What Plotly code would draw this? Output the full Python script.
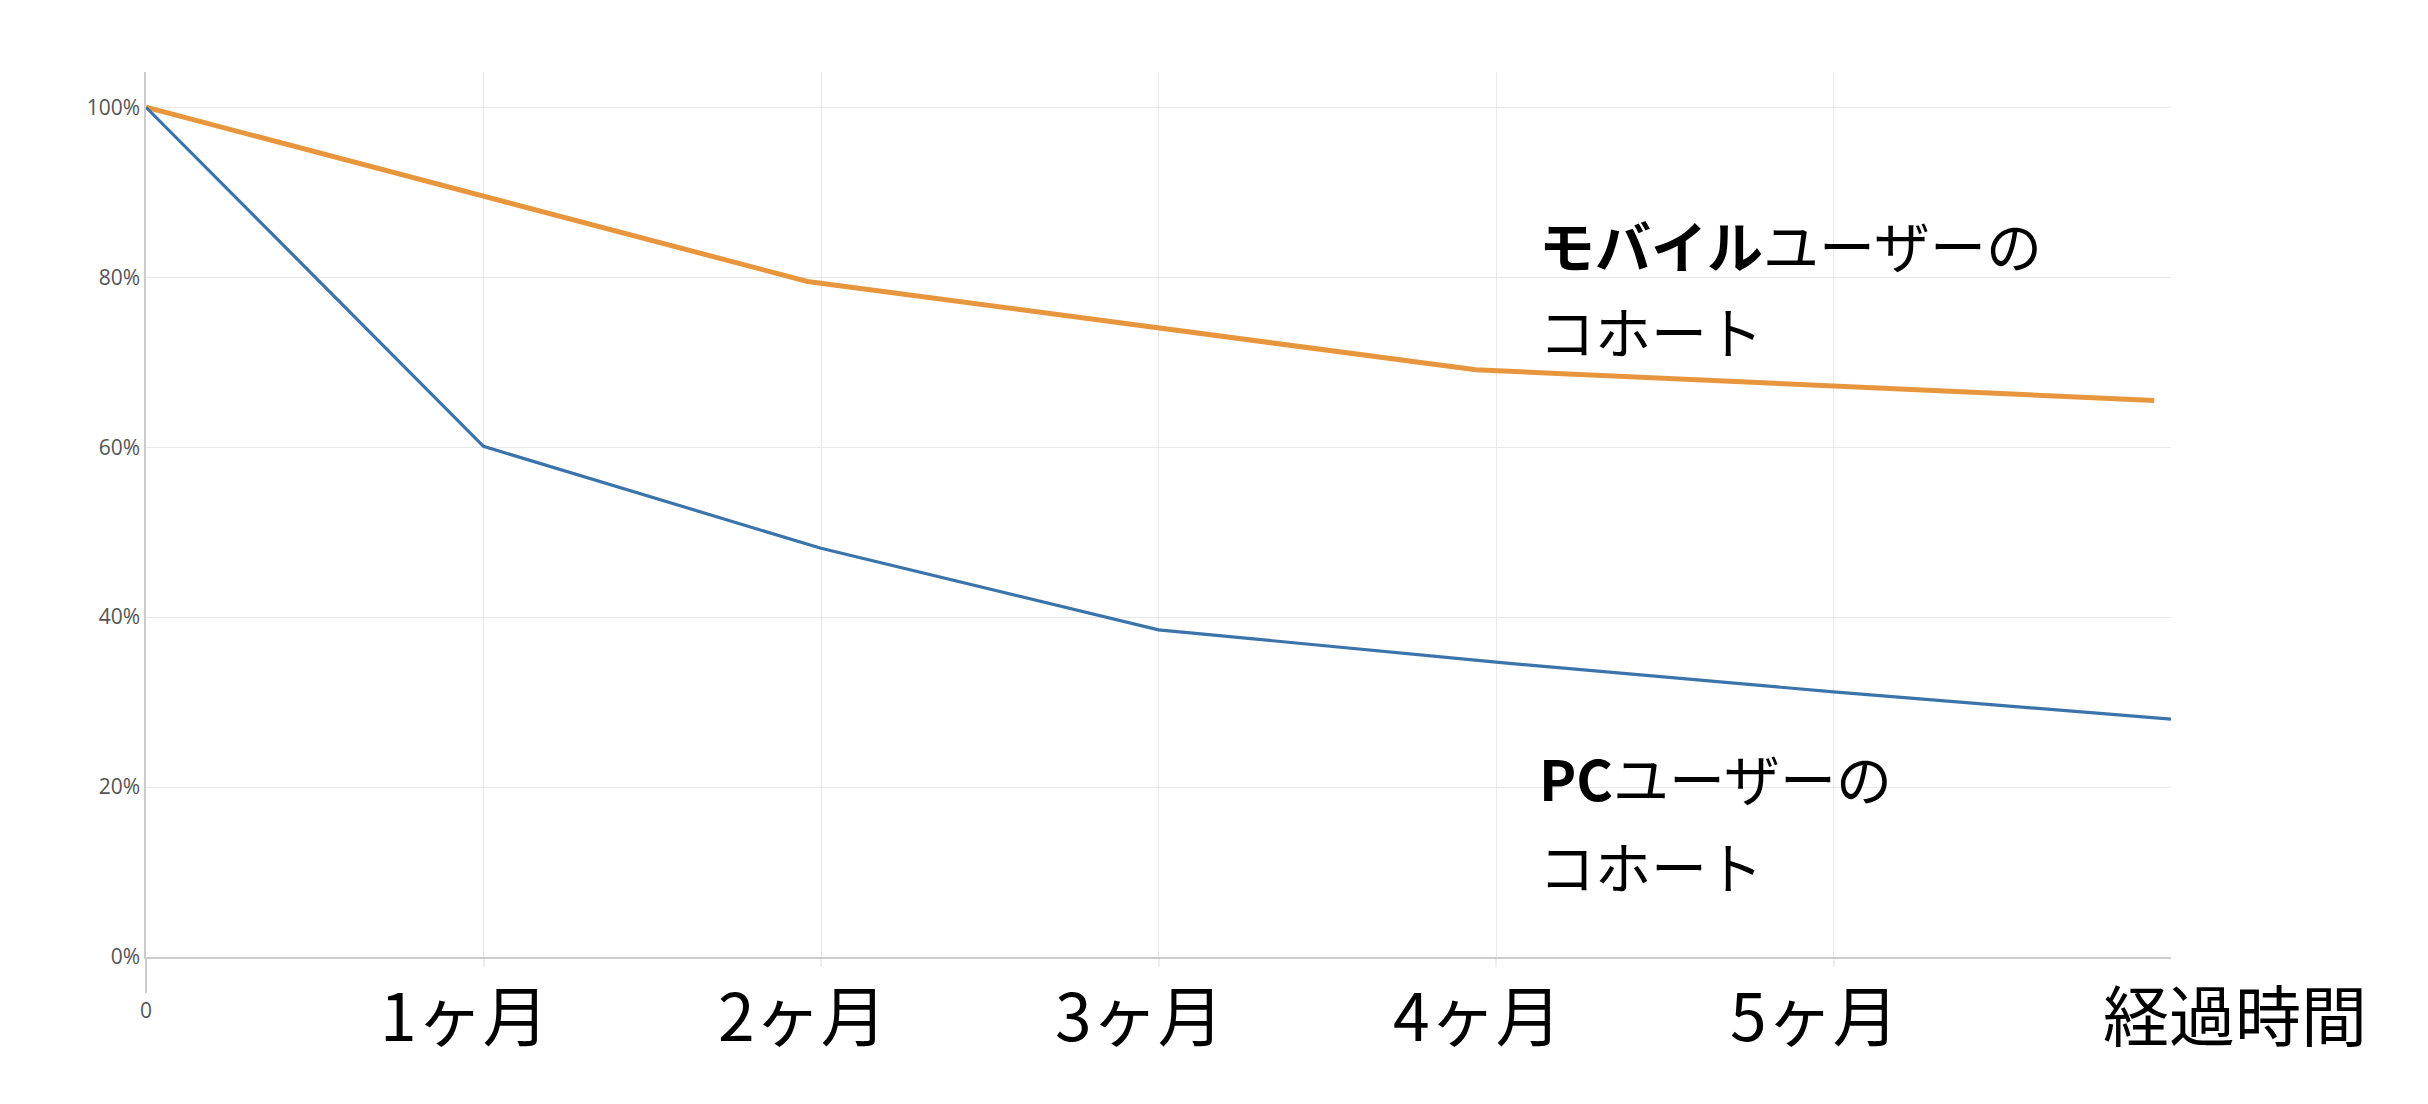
import plotly.graph_objects as go

# --- data ---
mobile_x = [0, 1.96, 3.94, 5.95]
mobile_y = [100, 79.5, 69.1, 65.5]

pc_x = [0, 1, 2, 3, 4, 5, 6]
pc_y = [100, 60.1, 48.1, 38.5, 34.7, 31.2, 28.0]

y_ticks = [0, 20, 40, 60, 80, 100]
y_tick_text = [f"{v}%" for v in y_ticks]
month_pos = [1, 2, 3, 4, 5]
month_labels = ["1ヶ月", "2ヶ月", "3ヶ月", "4ヶ月", "5ヶ月"]
x_title = "経過時間"
mobile_label = ["<b>モバイル</b>ユーザーの", "コホート"]
pc_label = ["<b>PC</b>ユーザーの", "コホート"]

ORANGE = "#E8963E"
BLUE = "#3A74AA"
JP = "Noto Sans CJK JP"

fig = go.Figure()
fig.add_trace(go.Scatter(x=mobile_x, y=mobile_y, mode="lines",
                         line=dict(color=ORANGE, width=5), name="モバイル"))
fig.add_trace(go.Scatter(x=pc_x, y=pc_y, mode="lines",
                         line=dict(color=BLUE, width=3.2), name="PC"))

annotations = []
for pos, lab in zip(month_pos, month_labels):
    annotations.append(dict(x=pos, y=-0.062, xref="x", yref="paper", text=lab,
                            showarrow=False, xanchor="center", yanchor="middle",
                            xshift=-19, font=dict(family=JP, size=66, color="#000")))
annotations.append(dict(x=1.0316, y=-0.062, xref="paper", yref="paper", text=x_title,
                        showarrow=False, xanchor="center", yanchor="middle",
                        font=dict(family=JP, size=66, color="#000")))

for yy, txt in zip([84.0, 73.8], mobile_label):
    annotations.append(dict(x=4.12, y=yy, xref="x", yref="y", text=txt,
                            showarrow=False, xanchor="left", yanchor="middle",
                            font=dict(family=JP, size=56, color="#000")))
for yy, txt in zip([21.2, 10.9], pc_label):
    annotations.append(dict(x=4.12, y=yy, xref="x", yref="y", text=txt,
                            showarrow=False, xanchor="left", yanchor="middle",
                            font=dict(family=JP, size=56, color="#000")))

fig.update_layout(
    width=2428, height=1104,
    margin=dict(l=146, r=257, t=72, b=147),
    paper_bgcolor="white", plot_bgcolor="white",
    showlegend=False,
    annotations=annotations,
    font=dict(family="Open Sans", size=20, color="#555"),
    xaxis=dict(range=[0, 6], tickmode="array", tickvals=[0], ticktext=["0"],
               ticks="outside", ticklen=34, tickcolor="#cccccc", tickwidth=1.5,
               showline=True, linecolor="#cccccc", linewidth=1.5,
               showgrid=False, zeroline=False,
               tickfont=dict(family="Open Sans", size=21, color="#555"),
               minor=dict(tickmode="array", tickvals=month_pos, showgrid=True,
                          gridcolor="#e8e8e8", gridwidth=1.2,
                          ticks="outside", ticklen=8, tickcolor="#eeeeee")),
    yaxis=dict(range=[0, 104.15], tickmode="array", tickvals=y_ticks,
               ticktext=y_tick_text, showgrid=True, gridcolor="#e8e8e8", gridwidth=1.2,
               showline=True, linecolor="#cccccc", linewidth=1.5,
               zeroline=False, ticks="",
               tickfont=dict(family="Open Sans", size=21, color="#555")),
)

fig.write_html("out.html")
